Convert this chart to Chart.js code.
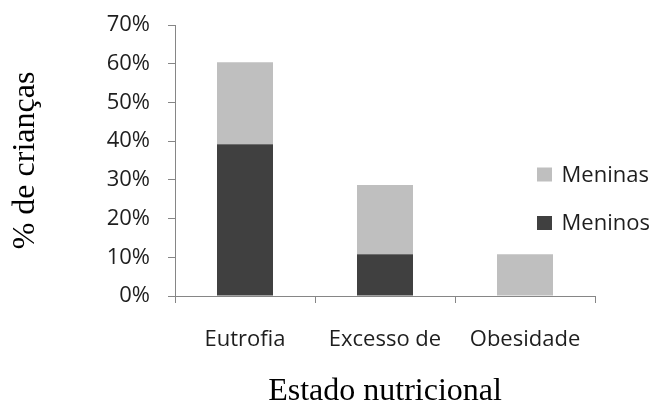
<!DOCTYPE html>
<html>
<head>
<meta charset="utf-8">
<script src="https://cdn.jsdelivr.net/npm/chart.js@4/dist/chart.umd.min.js"></script>
<style>
  html, body { margin: 0; padding: 0; background: #ffffff; }
  #wrap { width: 654px; height: 403px; }
</style>
</head>
<body>
<div id="wrap"><canvas id="chart" width="654" height="403"></canvas></div>
<script>
// Nutritional status of the children, by sex (stacked shares)
const categories = ['Eutrofia', 'Excesso de', 'Obesidade'];
const meninos = [39.2, 10.8, 0];
const meninas = [21.2, 17.9, 10.8];
const seriesNames = ['Meninos', 'Meninas'];
const yTicks = [0, 10, 20, 30, 40, 50, 60, 70];

const DARK = '#404040';
const LIGHT = '#BFBFBF';
const AXIS = '#868686';
const TEXT = '#1e1e1e';
const SANS = "'Open Sans', 'Liberation Sans', sans-serif";
const SERIF = "'Liberation Serif', 'DejaVu Serif', serif";

// Legend drawn at the right, over the plot area, with the top series first
const sideLegend = {
  id: 'sideLegend',
  afterDraw(chart) {
    const ctx = chart.ctx;
    const items = chart.data.datasets.slice().reverse();
    ctx.save();
    ctx.font = '22px ' + SANS;
    ctx.textBaseline = 'middle';
    ctx.textAlign = 'left';
    items.forEach((ds, i) => {
      const cy = 174.5 + i * 48.5;
      ctx.fillStyle = ds.backgroundColor;
      ctx.fillRect(537, cy - 7, 15, 14);
      ctx.fillStyle = TEXT;
      ctx.fillText(ds.label, 561.5, cy + 1);
    });
    ctx.restore();
  }
};

new Chart(document.getElementById('chart'), {
  type: 'bar',
  data: {
    labels: categories,
    datasets: [
      { label: seriesNames[0], data: meninos, backgroundColor: DARK,
        barPercentage: 0.4, categoryPercentage: 1.0 },
      { label: seriesNames[1], data: meninas, backgroundColor: LIGHT,
        barPercentage: 0.4, categoryPercentage: 1.0 }
    ]
  },
  options: {
    responsive: false,
    devicePixelRatio: 1,
    animation: false,
    layout: { padding: { top: 25, right: 59, bottom: 0, left: 0 } },
    plugins: {
      legend: { display: false },
      tooltip: { enabled: false }
    },
    scales: {
      x: {
        stacked: true,
        grid: {
          display: true, drawOnChartArea: false, drawTicks: true,
          tickLength: 7, color: AXIS, offset: true
        },
        border: { color: AXIS, width: 1 },
        ticks: {
          color: TEXT, font: { family: SANS, size: 22 },
          padding: 24, maxRotation: 0, autoSkip: false
        },
        title: {
          display: true, text: 'Estado nutricional', color: '#000000',
          font: { family: SERIF, size: 32, lineHeight: 0.7 },
          padding: { top: 0, bottom: 0 }
        },
        afterFit(scale) {
          scale.height = 107;
          scale.paddingLeft = 0;
          scale.paddingRight = 0;
        }
      },
      y: {
        stacked: true,
        min: 0, max: 70,
        afterBuildTicks(scale) { scale.ticks = yTicks.map(v => ({ value: v })); },
        grid: {
          display: true, drawOnChartArea: false, drawTicks: true,
          tickLength: 7, color: AXIS
        },
        border: { color: AXIS, width: 1 },
        ticks: {
          color: TEXT, font: { family: SANS, size: 22 }, padding: 18,
          callback: v => v + '%'
        },
        title: {
          display: true, text: '% de crianças', color: '#000000',
          font: { family: SERIF, size: 32 },
          padding: { top: 6, bottom: 0 }
        },
        afterFit(scale) {
          scale.width = 175;
          scale.paddingTop = 0;
          scale.paddingBottom = 0;
        }
      }
    }
  },
  plugins: [sideLegend]
});
</script>
</body>
</html>
